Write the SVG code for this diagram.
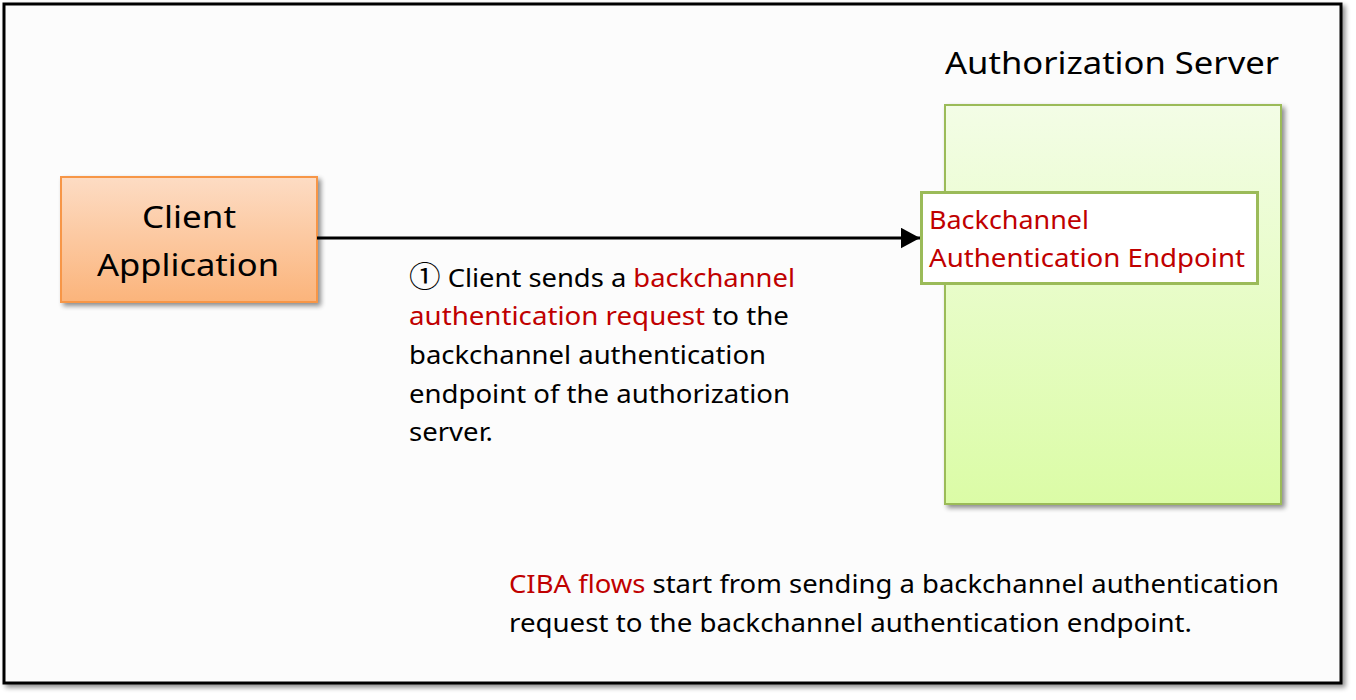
<svg xmlns="http://www.w3.org/2000/svg" width="1356" height="700" viewBox="0 0 1356 700">
<defs>
<linearGradient id="gOr" x1="0" y1="0" x2="0" y2="1"><stop offset="0" stop-color="#fddcc4"/><stop offset="1" stop-color="#fbb47b"/></linearGradient>
<linearGradient id="gGr" x1="0" y1="0" x2="0" y2="1"><stop offset="0" stop-color="#f3fde6"/><stop offset="1" stop-color="#dbfca6"/></linearGradient>
<filter id="sh" x="-5%" y="-5%" width="115%" height="115%"><feGaussianBlur in="SourceAlpha" stdDeviation="2.5"/><feOffset dx="3" dy="3"/><feComponentTransfer><feFuncA type="linear" slope="0.45"/></feComponentTransfer><feMerge><feMergeNode/><feMergeNode in="SourceGraphic"/></feMerge></filter>
<marker id="ah" markerWidth="6.5" markerHeight="7" refX="6.5" refY="3.5" orient="auto" markerUnits="strokeWidth"><path d="M0,0 L6.5,3.5 L0,7 Z" fill="#000"/></marker>
</defs>
<style>
text{font-family:"Noto Sans","Open Sans","DejaVu Sans",sans-serif;fill:#000}
.r{fill:#c00000}
.p{font-size:26px}
.c{font-family:"Noto Sans CJK JP","Noto Sans CJK SC",sans-serif;font-size:30px}
</style>
<rect x="0" y="0" width="1356" height="700" fill="#ffffff"/>
<rect id="frame" x="4" y="4" width="1337" height="679" fill="#fcfcfc" stroke="#000" stroke-width="3" filter="url(#sh)"/>
<g id="client">
<rect x="61" y="177" width="256" height="125" fill="url(#gOr)" stroke="#f79646" stroke-width="2" filter="url(#sh)"/>
<text x="189" y="228" font-size="30" text-anchor="middle" textLength="94" lengthAdjust="spacingAndGlyphs">Client</text>
<text x="188" y="276" font-size="30" text-anchor="middle" textLength="182" lengthAdjust="spacingAndGlyphs">Application</text>
</g>
<g id="authserver">
<text x="945" y="74" font-size="30" textLength="334" lengthAdjust="spacingAndGlyphs">Authorization Server</text>
<rect x="945" y="105" width="336" height="399" fill="url(#gGr)" stroke="#9bbb59" stroke-width="2" filter="url(#sh)"/>
</g>
<g id="endpoint">
<rect x="921.5" y="192.5" width="336" height="91" fill="#ffffff" stroke="#9bbb59" stroke-width="3"/>
<text class="r" x="929" y="229" font-size="26" textLength="160" lengthAdjust="spacingAndGlyphs">Backchannel</text>
<text class="r" x="929" y="267" font-size="26" textLength="316" lengthAdjust="spacingAndGlyphs">Authentication Endpoint</text>
</g>
<g id="connectors">
<line x1="317" y1="238" x2="920" y2="238" stroke="#000" stroke-width="3" marker-end="url(#ah)"/>
</g>
<g id="label1">
<text class="p" x="409" y="287" textLength="386" lengthAdjust="spacingAndGlyphs"><tspan class="c">①</tspan> Client sends a <tspan class="r">backchannel</tspan></text>
<text class="p" x="409" y="325" textLength="380" lengthAdjust="spacingAndGlyphs"><tspan class="r">authentication request</tspan> to the</text>
<text class="p" x="409" y="364" textLength="357" lengthAdjust="spacingAndGlyphs">backchannel authentication</text>
<text class="p" x="409" y="403" textLength="381" lengthAdjust="spacingAndGlyphs">endpoint of the authorization</text>
<text class="p" x="409" y="441" textLength="84" lengthAdjust="spacingAndGlyphs">server.</text>
</g>
<g id="note">
<text class="p" x="509" y="593" textLength="770" lengthAdjust="spacingAndGlyphs"><tspan class="r">CIBA flows</tspan> start from sending a backchannel authentication</text>
<text class="p" x="509" y="632" textLength="683" lengthAdjust="spacingAndGlyphs">request to the backchannel authentication endpoint.</text>
</g>
</svg>
